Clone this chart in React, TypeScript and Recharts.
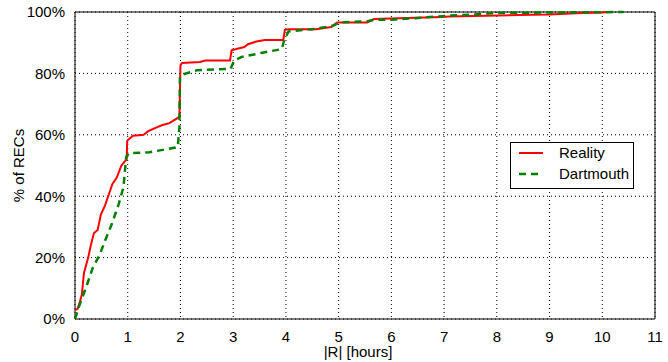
import {
  LineChart, Line, XAxis, YAxis, CartesianGrid, Legend, ReferenceArea, Label
} from 'recharts'

const realityHours = [
  0, 0.05, 0.1, 0.13, 0.17, 0.25, 0.3, 0.36, 0.43, 0.49, 0.57, 0.63, 0.71, 0.79, 0.88, 0.95, 0.98,
  0.99, 1.02, 1.1, 1.3, 1.39, 1.56, 1.66, 1.79, 1.95, 1.98, 2.0, 2.03, 2.37, 2.47, 2.94, 2.97,
  3.08, 3.21, 3.28, 3.44, 3.6, 3.95, 3.98, 4.05, 4.57, 4.86, 4.97, 5.54, 5.67, 6.95, 7.1, 8.65,
  9.0, 9.5, 10.0, 10.1,
]
const realityPct = [
  2.9, 3.3, 6, 8, 15, 20, 24, 28, 29, 34, 37, 40, 44, 46, 50, 51.4, 52,
  58, 58.6, 59.7, 60, 61.2, 62.5, 63.2, 63.8, 65.5, 66, 82.6, 83.4, 83.7, 84.2, 84.2, 87.5,
  88, 88.6, 89.5, 90.4, 90.9, 90.9, 94.2, 94.4, 94.4, 95.1, 96.6, 96.6, 97.7, 98.4, 98.5, 99.1,
  99.2, 99.6, 99.8, 100,
]

const dartmouthHours = [
  0, 0.08, 0.21, 0.34, 0.47, 0.57, 0.7, 0.83, 0.92, 0.97, 1.02, 1.41, 1.95, 1.98, 1.99, 2.05,
  2.31, 2.95, 3.02, 3.15, 3.6, 3.92, 3.97, 4.05, 4.5, 4.89, 5.02, 5.54, 5.7, 6.0, 6.44, 7.08,
  7.47, 8.0, 10.4,
]
const dartmouthPct = [
  0, 4.3, 10.3, 16.8, 21, 25.5, 31, 37.5, 43, 52.7, 54, 54.3, 56, 62.5, 79, 79.7,
  81, 81.5, 84.2, 85.3, 86.9, 87.9, 90.9, 93.7, 94.4, 95.5, 96.6, 97, 97.5, 97.5, 98, 98.8,
  99.1, 99.7, 100,
]

const xTicks = [0, 1, 2, 3, 4, 5, 6, 7, 8, 9, 10, 11]
const yTicks = [0, 20, 40, 60, 80, 100]

const reality = realityHours.map((h, i) => ({ h, v: realityPct[i] }))
const dartmouth = dartmouthHours.map((h, i) => ({ h, v: dartmouthPct[i] }))

const font = '"Liberation Sans", Arial, sans-serif'
const tickStyle = { fill: '#000', fontSize: 15, fontFamily: font }

const LegendBox = () => (
  <div style={{
    width: 122, height: 45, border: '1px solid #000', background: '#fff',
    fontFamily: font, fontSize: 15, color: '#000', position: 'relative'
  }}>
    <svg width={122} height={45} style={{ position: 'absolute', left: 0, top: 0 }}>
      <line x1={8} x2={32} y1={10} y2={10} stroke="#ff0000" strokeWidth={2} />
      <line x1={8} x2={32} y1={31} y2={31} stroke="#008000" strokeWidth={2.5} strokeDasharray="7 5" />
      <text x={48} y={15} fontSize={15} fontFamily={font}>Reality</text>
      <text x={48} y={36} fontSize={15} fontFamily={font}>Dartmouth</text>
    </svg>
  </div>
)

export default function App() {
  return (
    <div style={{ position: 'absolute', left: 0, top: 0, background: '#fff' }}>
      <LineChart width={668} height={362} margin={{ top: 12, right: 13, left: 0, bottom: 0 }}>
        <CartesianGrid stroke="#000" strokeDasharray="1 3" strokeWidth={1} />
        <XAxis
          type="number"
          dataKey="h"
          domain={[0, 11]}
          ticks={xTicks}
          interval={0}
          height={43}
          tick={tickStyle}
          tickLine={false}
          axisLine={false}
          tickMargin={6}
          allowDuplicatedCategory={false}
        >
          <Label value="|R| [hours]" position="insideBottom" offset={5} dx={-7} style={{ ...tickStyle }} />
        </XAxis>
        <YAxis
          type="number"
          domain={[0, 100]}
          ticks={yTicks}
          width={75}
          tick={tickStyle}
          tickFormatter={(v) => `${v}%`}
          tickLine={false}
          axisLine={false}
          tickMargin={4}
        >
          <Label value="% of RECs" angle={-90} position="insideLeft" offset={19} style={{ ...tickStyle, textAnchor: 'middle' }} />
        </YAxis>
        <ReferenceArea x1={0} x2={11} y1={0} y2={100} fill="none" stroke="#000" strokeWidth={1} />
        <Line
          data={reality}
          dataKey="v"
          name="Reality"
          type="linear"
          stroke="#ff0000"
          strokeWidth={2}
          dot={false}
          isAnimationActive={false}
        />
        <Line
          data={dartmouth}
          dataKey="v"
          name="Dartmouth"
          type="linear"
          stroke="#008000"
          strokeWidth={2.5}
          strokeDasharray="7 5"
          dot={false}
          isAnimationActive={false}
        />
        <Legend
          layout="vertical"
          align="center"
          verticalAlign="middle"
          content={() => <LegendBox />}
          wrapperStyle={{ left: 510, top: 142, width: 124, height: 47 }}
        />
      </LineChart>
    </div>
  )
}
